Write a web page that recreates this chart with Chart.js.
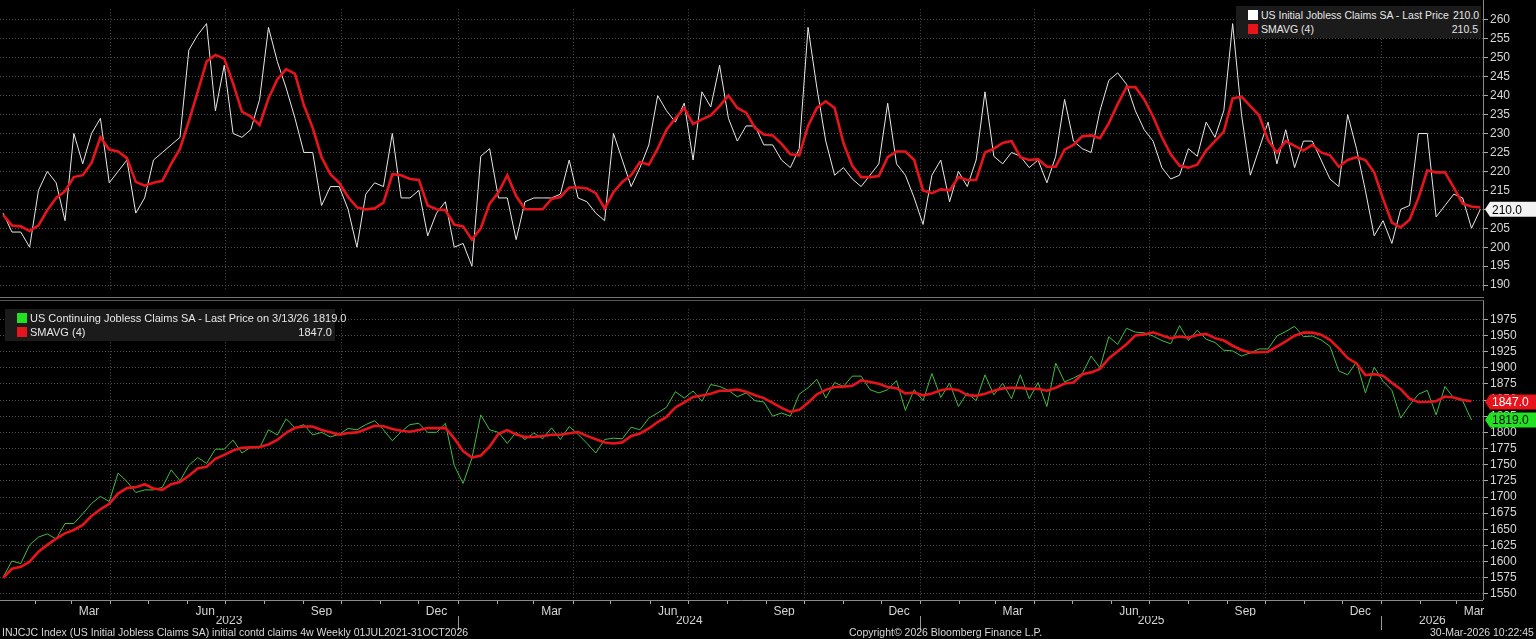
<!DOCTYPE html>
<html lang="en">
<head>
<meta charset="UTF-8" />
<title>US Jobless Claims</title>
<script src="https://cdn.jsdelivr.net/npm/chart.js"></script>
<style>
  body { margin: 0; background: #000; width: 1536px; height: 639px; overflow: hidden; font-family: "Liberation Sans", Arial, sans-serif; }
  #top { position: absolute; left: 0; top: 0; }
  #bot { position: absolute; left: 0; top: 300px; }
  .sep { position: absolute; left: 0; width: 1484px; top: 297px; height: 2px; border-top: 1px solid #777; border-bottom: 1px solid #555; }
  .legend { position: absolute; background: #1b1b1b; color: #e6e6e6; font-size: 11px; line-height: 14px; padding: 2px 3px 2px 12px; }
  .legend .row { display: flex; justify-content: space-between; white-space: nowrap; }
  .legend .row span + span { margin-left: 4px; }
  .sw { display: inline-block; width: 10px; height: 10px; margin-right: 3px; vertical-align: -1px; }
  .foot { position: absolute; top: 626px; font-size: 10.5px; color: #d8d8d8; white-space: nowrap; }
</style>
</head>
<body>
<canvas id="top" width="1536" height="300"></canvas>
<canvas id="bot" width="1536" height="339"></canvas>
<div class="sep"></div>
<div class="legend" style="left:1236px; top:6px; width:230px; font-size:10.5px;">
  <div class="row"><span><span class="sw" style="background:#fff"></span>US Initial Jobless Claims SA - Last Price</span><span>210.0</span></div>
  <div class="row"><span><span class="sw" style="background:#e8141c"></span>SMAVG (4)</span><span>210.5</span></div>
</div>
<div class="legend" style="left:5px; top:309px; width:315px;">
  <div class="row"><span><span class="sw" style="background:#22e022"></span>US Continuing Jobless Claims SA - Last Price on 3/13/26</span><span>1819.0</span></div>
  <div class="row"><span><span class="sw" style="background:#e8141c"></span>SMAVG (4)</span><span>1847.0</span></div>
</div>
<div class="foot" style="left:2px;">INJCJC Index (US Initial Jobless Claims SA) initial contd claims 4w Weekly 01JUL2021-31OCT2026</div>
<div class="foot" style="left:849px;">Copyright© 2026 Bloomberg Finance L.P.</div>
<div class="foot" style="left:1430px;">30-Mar-2026 10:22:45</div>
<script>
// weekly values, first week ending Jan 6 2023
const initialClaims = [
  209,204,204,200,215,220,217,207,230,222,230,234,217,220,223,209,213,223,225,227,
  229,252,256,259,236,248,230,229,231,239,258,249,242,234,225,225,211,216,216,210,
  200,214,217,216,230,213,213,215,203,209,212,200,201,195,224,226,213,
  213,202,212,213,213,213,214,223,213,212,209,207,230,223,216,221,227,240,236,233,
  238,223,241,237,248,234,228,232,232,227,227,223,221,226,258,242,228,219,221,218,
  216,219,222,238,222,219,213,206,219,223,212,220,216,223,241,
  224,222,225,224,221,223,217,224,239,228,226,225,236,244,246,243,236,231,228,221,
  218,219,226,224,233,229,236,259,235,219,226,233,222,231,221,228,228,223,218,216,
  235,226,215,203,207,201,210,211,230,230,208,211,214,213,205,210
];
const initialPrior = [215, 205, 205]; // three weeks before the window, for the 4w average

const continuingClaims = [
  1576,1601,1597,1626,1638,1643,1635,1659,1659,1674,1690,1701,1693,1737,1724,1707,1711,1711,1715,1742,
  1725,1749,1761,1752,1774,1774,1788,1768,1777,1776,1804,1796,1821,1807,1812,1796,1800,1793,1797,1806,
  1804,1812,1818,1804,1787,1801,1812,1814,1800,1800,1814,1749,1721,1760,1827,1804,1800,
  1783,1800,1789,1799,1790,1807,1789,1809,1797,1783,1768,1789,1791,1790,1808,1804,1822,1830,1839,1863,
  1853,1864,1848,1874,1871,1865,1855,1861,1849,1847,1825,1830,1825,1859,1869,1882,1853,1877,1871,1887,
  1887,1866,1861,1866,1880,1834,1866,1849,1891,1854,1876,1840,1861,1849,1889,
  1858,1876,1852,1889,1852,1877,1840,1907,1878,1884,1891,1918,1900,1948,1936,1961,1955,1954,1949,1942,
  1937,1965,1942,1958,1944,1939,1927,1926,1918,1923,1929,1929,1949,1956,1964,1948,1949,1943,1933,1895,
  1889,1909,1861,1901,1879,1865,1822,1842,1859,1865,1827,1871,1853,1849,1819
];
const continuingPrior = [1545, 1585, 1594];

const topTicks = [190,195,200,205,210,215,220,225,230,235,240,245,250,255,260];
const botTicks = [1550,1575,1600,1625,1650,1675,1700,1725,1750,1775,1800,1825,1850,1875,1900,1925,1950,1975];
const monthNames = ["Jan","Feb","Mar","Apr","May","Jun","Jul","Aug","Sep","Oct","Nov","Dec"];
const labelMonths = [2, 5, 8, 11];

const X_MIN = -0.35, X_MAX = 167.3;
const base = Date.UTC(2023, 0, 6);
const idx = (y, m, d) => (Date.UTC(y, m, d) - base) / (7 * 864e5);

function sma4(prior, vals) {
  const all = prior.concat(vals);
  return vals.map((v, i) => {
    const s = all[i] + all[i + 1] + all[i + 2] + all[i + 3];
    return { x: i, y: s / 4 };
  });
}
const pts = (vals) => vals.map((v, i) => ({ x: i, y: v }));

// month ticks: month starts (grid / tick marks) + mid-month labels
const xTickInfo = {};
const xTicks = [];
for (let y = 2023; y <= 2026; y++) {
  for (let m = 0; m < 12; m++) {
    const s = idx(y, m, 1);
    if (s >= X_MIN && s <= X_MAX) {
      xTicks.push({ value: s });
      xTickInfo[s.toFixed(3)] = { kind: "start", quarter: m % 3 === 0, label: "" };
    }
    if (labelMonths.includes(m)) {
      const c = idx(y, m, 15);
      if (c >= X_MIN && c <= X_MAX) {
        xTicks.push({ value: c });
        xTickInfo[c.toFixed(3)] = { kind: "label", label: monthNames[m] };
      }
    }
  }
}
xTicks.sort((a, b) => a.value - b.value);

const yearTickInfo = {};
const yearTicks = [];
for (let y = 2023; y <= 2026; y++) {
  const a = Math.max(idx(y, 0, 1), X_MIN), b = Math.min(idx(y + 1, 0, 1), X_MAX);
  const mid = (a + b) / 2;
  yearTicks.push({ value: mid });
  yearTickInfo[mid.toFixed(3)] = { kind: "label", label: String(y) };
  if (y > 2023) {
    const s = idx(y, 0, 1);
    yearTicks.push({ value: s });
    yearTickInfo[s.toFixed(3)] = { kind: "sep", label: "" };
  }
}
yearTicks.sort((a, b) => a.value - b.value);

const GRID = "#4c4c4c";
const TXT = "#d6d6d6";
const FONT = { family: "'Liberation Sans', Arial, sans-serif", size: 12 };

function yAxis(ticks, min, max) {
  return {
    position: "right", min: min, max: max,
    afterBuildTicks: (s) => { s.ticks = ticks.map((v) => ({ value: v })); },
    afterFit: (s) => { s.width = 53; },
    grid: { color: GRID, tickColor: "#aaa", tickLength: 5, lineWidth: 1 },
    border: { display: false, dash: [1, 2] },
    ticks: { color: TXT, font: FONT, padding: 2, autoSkip: false, callback: (v) => String(v) }
  };
}

const frame = {
  id: "frame",
  afterDraw(chart, args, opts) {
    const { ctx, chartArea } = chart;
    const ys = chart.scales.y;
    ctx.save();
    ctx.strokeStyle = "#8a8a8a";
    ctx.lineWidth = 1;
    ctx.beginPath();
    ctx.moveTo(chartArea.right + 0.5, 0);
    ctx.lineTo(chartArea.right + 0.5, chartArea.bottom);
    if (opts.bottomLine) {
      ctx.moveTo(0, chartArea.bottom + 0.5);
      ctx.lineTo(chartArea.right, chartArea.bottom + 0.5);
    }
    ctx.stroke();
    (opts.tags || []).forEach((t) => {
      const y = ys.getPixelForValue(t.value);
      const x0 = chartArea.right + 2, x1 = chart.width, h = 15;
      ctx.fillStyle = t.bg;
      ctx.beginPath();
      ctx.moveTo(x0, y);
      ctx.lineTo(x0 + 5, y - h / 2);
      ctx.lineTo(x1, y - h / 2);
      ctx.lineTo(x1, y + h / 2);
      ctx.lineTo(x0 + 5, y + h / 2);
      ctx.closePath();
      ctx.fill();
      ctx.fillStyle = t.fg;
      ctx.font = "12px 'Liberation Sans', Arial, sans-serif";
      ctx.textBaseline = "middle";
      ctx.fillText(t.text, x0 + 7, y + 1);
    });
    ctx.restore();
  }
};

function lineSet(data, color, width) {
  return { data: data, borderColor: color, borderWidth: width, pointRadius: 0, tension: 0, fill: false };
}

new Chart(document.getElementById("top"), {
  type: "line",
  data: {
    datasets: [
      lineSet(sma4(initialPrior, initialClaims), "#e8141c", 2.6),
      lineSet(pts(initialClaims), "#e8e8e8", 1)
    ]
  },
  options: {
    responsive: false, animation: false, events: [],
    layout: { padding: { top: 3, bottom: 3, left: 0, right: 0 } },
    plugins: { legend: { display: false }, tooltip: { enabled: false },
      frame: { tags: [{ value: 210, text: "210.0", bg: "#f2f2f2", fg: "#000" }] } },
    scales: {
      x: {
        type: "linear", min: X_MIN, max: X_MAX,
        afterBuildTicks: (s) => { s.ticks = xTicks.map((t) => ({ value: t.value })); },
        afterFit: (s) => { s.height = 0; },
        grid: { color: (c) => { const i = xTickInfo[c.tick.value.toFixed(3)]; return i && i.quarter ? GRID : "transparent"; }, drawTicks: false },
        border: { display: false, dash: [1, 2] },
        ticks: { display: false }
      },
      y: yAxis(topTicks, 188.5, 262.8)
    }
  },
  plugins: [frame]
});

new Chart(document.getElementById("bot"), {
  type: "line",
  data: {
    datasets: [
      lineSet(sma4(continuingPrior, continuingClaims), "#e8141c", 2.6),
      lineSet(pts(continuingClaims), "#3fbf3f", 1)
    ]
  },
  options: {
    responsive: false, animation: false, events: [],
    layout: { padding: { top: 2, bottom: 0, left: 0, right: 0 } },
    plugins: { legend: { display: false }, tooltip: { enabled: false },
      frame: { bottomLine: true, tags: [
        { value: 1847, text: "1847.0", bg: "#e8141c", fg: "#fff" },
        { value: 1819, text: "1819.0", bg: "#22e022", fg: "#000" }
      ] } },
    scales: {
      x: {
        type: "linear", min: X_MIN, max: X_MAX,
        afterBuildTicks: (s) => { s.ticks = xTicks.map((t) => ({ value: t.value })); },
        afterFit: (s) => { s.height = 16; },
        grid: {
          color: (c) => { const i = c.tick && xTickInfo[c.tick.value.toFixed(3)]; return i && i.quarter ? GRID : "transparent"; },
          tickColor: (c) => { const i = c.tick && xTickInfo[c.tick.value.toFixed(3)]; return i && i.kind === "start" ? "#aaa" : "transparent"; },
          tickLength: 4
        },
        border: { display: false, dash: [1, 2] },
        ticks: { color: TXT, font: FONT, padding: 0, maxRotation: 0, autoSkip: false,
          callback: (v) => { const i = xTickInfo[Number(v).toFixed(3)]; return i ? i.label : ""; } }
      },
      x2: {
        type: "linear", position: "bottom", min: X_MIN, max: X_MAX,
        afterBuildTicks: (s) => { s.ticks = yearTicks.map((t) => ({ value: t.value })); },
        afterFit: (s) => { s.height = 23; },
        grid: {
          drawOnChartArea: false,
          color: "transparent",
          tickColor: (c) => { const i = c.tick && yearTickInfo[c.tick.value.toFixed(3)]; return i && i.kind === "sep" ? "#9a9a9a" : "transparent"; },
          tickLength: 14
        },
        border: { display: false },
        ticks: { color: TXT, font: FONT, padding: -17, maxRotation: 0, autoSkip: false,
          callback: (v) => { const i = yearTickInfo[Number(v).toFixed(3)]; return i ? i.label : ""; } }
      },
      y: yAxis(botTicks, 1540.7, 1990.5)
    }
  },
  plugins: [frame]
});
</script>
</body>
</html>
